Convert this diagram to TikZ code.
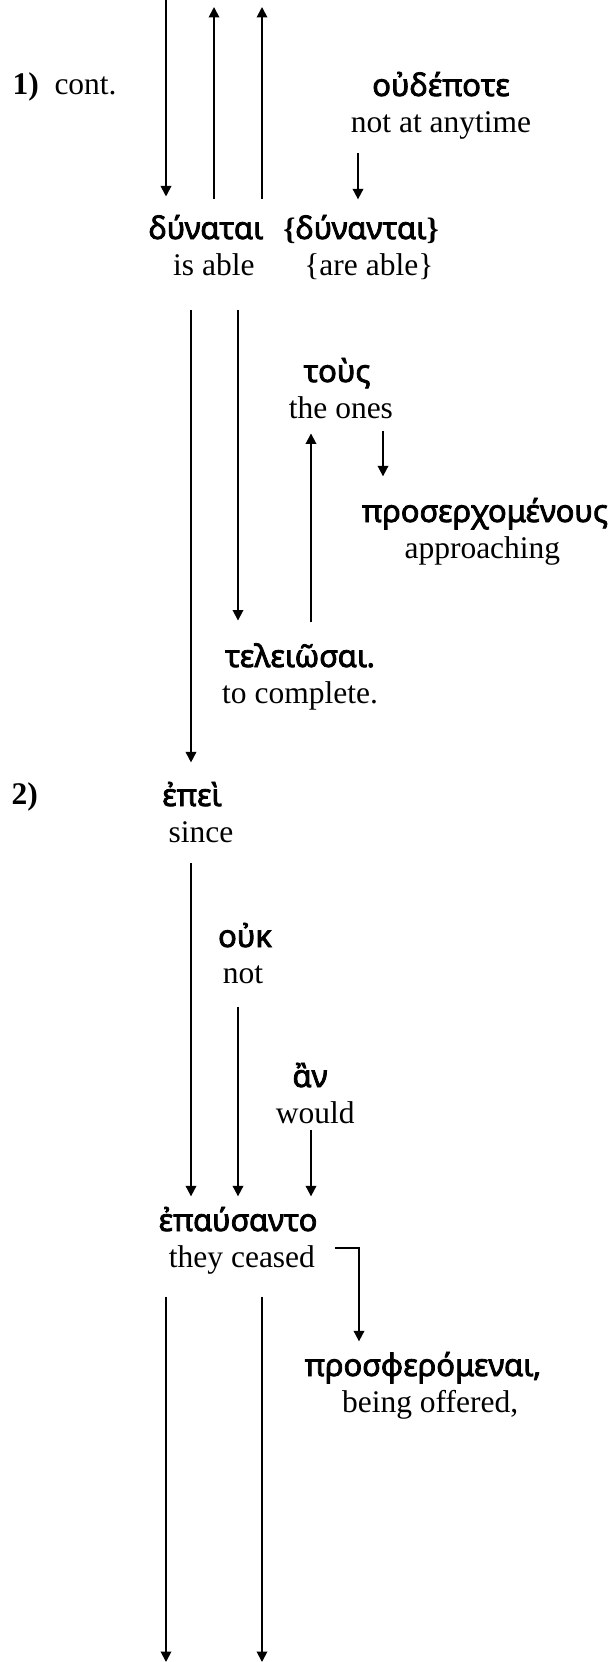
\documentclass[tikz,border=0pt]{standalone}
\usepackage{fontspec}
\setmainfont{Liberation Serif}
\newfontfamily\greekfont{Noto Sans}[AutoFakeBold=2.5]
\usetikzlibrary{arrows.meta,positioning}
\tikzstyle{greek} = [anchor=base, inner sep=0pt, font=\greekfont\bfseries\fontsize{11.8}{13}\selectfont, text height=9pt, text depth=3pt]
\tikzstyle{gloss} = [inner sep=0pt, font=\fontsize{12}{14}\selectfont, text height=8.4pt, text depth=2.5pt]
\tikzstyle{num} = [anchor=base west, inner sep=0pt, font=\fontsize{12}{14}\selectfont]
\tikzstyle{line} = [draw, line width=0.7pt, -{Triangle[length=4pt, width=4pt]}]

\begin{document}
\begin{tikzpicture}[x=0.381pt, y=-0.381pt]
            \useasboundingbox (0,0) rectangle (615,1662);

            \coordinate (topA) at (166,0);
            \coordinate (topB) at (214,7);
            \coordinate (topC) at (262,7);
            \coordinate (colD) at (358,0);
            \coordinate (colE) at (191,0);
            \coordinate (colF) at (238,0);
            \coordinate (colG) at (311,0);
            \coordinate (colH) at (383,0);
            \coordinate (colN) at (359,0);
            \coordinate (botL) at (166,1662);
            \coordinate (botM) at (262,1662);

            \node[num] (one) at (12,95) {\textbf{1)}\enspace cont.};

            \node[greek] (oudepote) at (441,96) {οὐδέποτε};
            \node[gloss, below=2pt of oudepote] (notanytime) {not at anytime};

            \node[greek] (dunatai) at (206,239) {δύναται};
            \node[gloss, below=2pt of dunatai, xshift=3pt] (isable) {is able};
            \node[greek] (dunantai) at (361,239) {{\rmfamily\{}δύνανται{\rmfamily\}}};
            \node[gloss, below=2pt of dunantai, xshift=3pt] (areable) {\{are able\}};

            \path[line, shorten >=7pt] (topA) -- (dunatai.north -| topA);
            \path[line, shorten <=6.2pt] (dunatai.north -| topB) -- (topB);
            \path[line, shorten <=6.2pt] (dunatai.north -| topC) -- (topC);
            \path[line, shorten <=5.4pt, shorten >=5.9pt] (notanytime.south -| colD) -- (dunantai.north -| colD);

            \node[greek] (tous) at (337,382) {τοὺς};
            \node[gloss, below=2pt of tous, xshift=1.5pt] (theones) {the ones};

            \node[greek] (proserchomenous) at (485,522) {προσερχομένους};
            \node[gloss, below=2pt of proserchomenous, xshift=-1pt] (approaching) {approaching};
            \path[line, shorten <=2pt, shorten >=8.2pt] (theones.south -| colH) -- (proserchomenous.north -| colH);

            \node[greek] (teleiosai) at (300,667) {τελειῶσαι.};
            \node[gloss, below=2pt of teleiosai] (tocomplete) {to complete.};
            \path[line, shorten <=10.7pt, shorten >=8.5pt] (isable.south -| colF) -- (teleiosai.north -| colF);
            \path[line, shorten <=7.8pt, shorten >=3.1pt] (teleiosai.north -| colG) -- (theones.south -| colG);

            \node[num] (two) at (11,804) {\textbf{2)}};
            \node[greek] (epei) at (192,806) {ἐπεὶ};
            \node[gloss, below=2pt of epei, xshift=3.4pt] (since) {since};
            \path[line, shorten <=10.7pt, shorten >=7.4pt] (isable.south -| colE) -- (epei.north -| colE);

            \node[greek] (ouk) at (245,947) {οὐκ};
            \node[gloss, below=2pt of ouk, xshift=-0.8pt] (notgloss) {not};

            \node[greek] (an) at (310,1087) {ἂν};
            \node[gloss, below=2pt of an, xshift=2pt] (would) {would};

            \node[greek] (epausanto) at (238,1231) {ἐπαύσαντο};
            \node[gloss, below=2pt of epausanto, xshift=1.5pt] (theyceased) {they ceased};
            \path[line, shorten <=5.4pt, shorten >=4pt] (since.south -| colE) -- (epausanto.north -| colE);
            \path[line, shorten <=6.2pt, shorten >=4pt] (notgloss.south -| colF) -- (epausanto.north -| colF);
            \path[line, shorten >=4pt] (would.south -| colG) -- (epausanto.north -| colG);

            \node[greek] (prosferomenai) at (423,1376) {προσφερόμεναι,};
            \node[gloss, below=2pt of prosferomenai, xshift=2.7pt] (beingoffered) {being offered,};
            \path[line, shorten >=4pt] ([shift={(20,3)}]theyceased.north east) -| (prosferomenai.north -| colN);

            \path[line, shorten <=8.5pt] (theyceased.south -| botL) -- (botL);
            \path[line, shorten <=8.5pt] (theyceased.south -| botM) -- (botM);
        \end{tikzpicture}
\end{document}
